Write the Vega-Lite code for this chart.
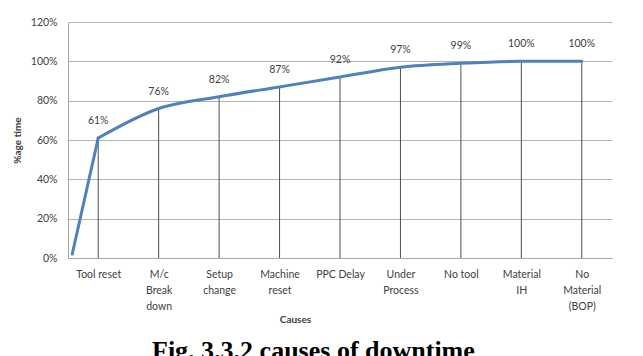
{
  "$schema": "https://vega.github.io/schema/vega-lite/v6.json",
  "width": 544,
  "height": 236,
  "autosize": {"type": "none"},
  "padding": {"left": 68, "top": 22, "right": 31, "bottom": 98},
  "background": "white",
  "config": {
    "view": {"stroke": null},
    "font": "Lato",
    "axis": {"labelFont": "Lato", "titleFont": "Lato"}
  },
  "title": {
    "text": "Fig. 3.3.2 causes of downtime",
    "orient": "bottom",
    "anchor": "start",
    "frame": "group",
    "dx": 84,
    "offset": 13,
    "font": "Liberation Serif",
    "fontSize": 26,
    "fontWeight": "bold",
    "color": "#000000"
  },
  "data": {
    "values": [
      {"idx": -0.43, "cause": "", "pct": 0.02},
      {"idx": 0, "cause": "Tool reset", "pct": 0.61},
      {"idx": 1, "cause": "M/c Break down", "pct": 0.76},
      {"idx": 2, "cause": "Setup change", "pct": 0.82},
      {"idx": 3, "cause": "Machine reset", "pct": 0.87},
      {"idx": 4, "cause": "PPC Delay", "pct": 0.92},
      {"idx": 5, "cause": "Under Process", "pct": 0.97},
      {"idx": 6, "cause": "No tool", "pct": 0.99},
      {"idx": 7, "cause": "Material IH", "pct": 1.0},
      {"idx": 8, "cause": "No Material (BOP)", "pct": 1.0}
    ]
  },
  "encoding": {
    "x": {
      "field": "idx",
      "type": "quantitative",
      "scale": {"domain": [-0.5, 8.5], "nice": false, "zero": false},
      "axis": {
        "title": "Causes",
        "titleFontSize": 10,
        "titleFontWeight": "bold",
        "titleColor": "#404040",
        "titleX": 227,
        "titlePadding": 3,
        "values": [0, 1, 2, 3, 4, 5, 6, 7, 8],
        "grid": false,
        "ticks": false,
        "domainColor": "#a6a6a6",
        "labelColor": "#404040",
        "labelFontSize": 10.5,
        "labelPadding": 11,
        "labelLineHeight": 16,
        "labelBaseline": "top",
        "labelOverlap": false,
        "labelExpr": "datum.value == 0 ? 'Tool reset' : datum.value == 1 ? ['M/c', 'Break', 'down'] : datum.value == 2 ? ['Setup', 'change'] : datum.value == 3 ? ['Machine', 'reset'] : datum.value == 4 ? 'PPC Delay' : datum.value == 5 ? ['Under', 'Process'] : datum.value == 6 ? 'No tool' : datum.value == 7 ? ['Material', 'IH'] : ['No', 'Material', '(BOP)']"
      }
    },
    "y": {
      "field": "pct",
      "type": "quantitative",
      "scale": {"domain": [0, 1.2], "nice": false},
      "axis": {
        "title": "%age time",
        "titleFontSize": 10,
        "titleFontWeight": "bold",
        "titleColor": "#404040",
        "titlePadding": 8,
        "format": ".0%",
        "values": [0, 0.2, 0.4, 0.6, 0.8, 1.0, 1.2],
        "ticks": false,
        "grid": true,
        "gridColor": "#b3b3b3",
        "domainColor": "#a6a6a6",
        "labelColor": "#404040",
        "labelFontSize": 10.5,
        "labelPadding": 11
      }
    }
  },
  "layer": [
    {
      "transform": [{"filter": "datum.cause != ''"}],
      "mark": {"type": "rule", "color": "#4d4d4d", "strokeWidth": 1},
      "encoding": {"y2": {"datum": 0}}
    },
    {
      "transform": [{"filter": "datum.idx <= 0"}],
      "mark": {"type": "line", "color": "#4f81bd", "strokeWidth": 3, "interpolate": "linear", "strokeCap": "round"}
    },
    {
      "transform": [{"filter": "datum.idx >= 0"}],
      "mark": {"type": "line", "color": "#4f81bd", "strokeWidth": 3, "interpolate": "monotone", "strokeCap": "round"}
    },
    {
      "transform": [{"filter": "datum.cause != ''"}],
      "mark": {"type": "text", "dy": -17, "fontSize": 10.5, "color": "#404040", "font": "Lato"},
      "encoding": {"text": {"field": "pct", "type": "quantitative", "format": ".0%"}}
    }
  ]
}
